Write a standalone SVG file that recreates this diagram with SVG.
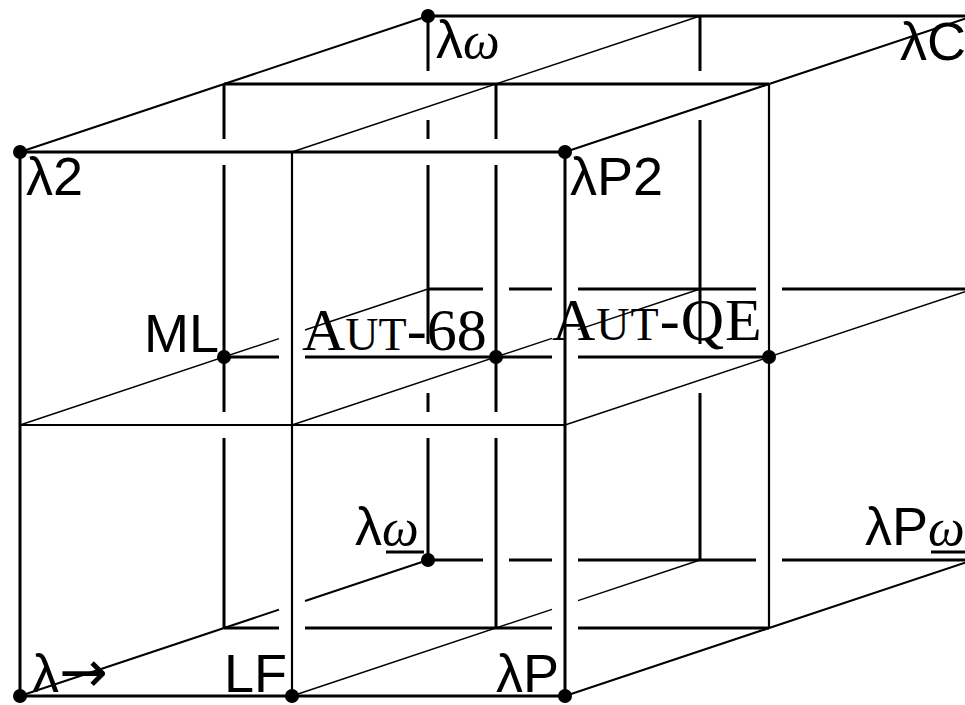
<svg xmlns="http://www.w3.org/2000/svg" width="965" height="705" viewBox="0 0 965 705">
<style>
.thick{fill:none;stroke:#000;stroke-width:3;stroke-linecap:butt}
.thin{fill:none;stroke:#000;stroke-width:2.2;stroke-linecap:butt}
.dthick{fill:none;stroke:#000;stroke-width:2}
.dthin{fill:none;stroke:#000;stroke-width:1.4}
.sans{font-family:"Liberation Sans",Arial,sans-serif;font-size:54px;fill:#000}
.it{font-family:"Liberation Serif","Times New Roman",serif;font-style:italic;font-size:52px}
.arr{font-family:"DejaVu Sans",sans-serif;font-size:58px}
.rm{font-family:"Liberation Serif","Times New Roman",serif;font-size:60px;fill:#000}
.sc{font-size:46px}
.ul{stroke:#000;stroke-width:3}
</style>
<rect width="965" height="705" fill="#fff"/>
<g id="connectors">
<path class="thick" d="M20 152V696 M565 152V696 M20 152H565 M20 696H565
M224 84H769
M224 357H279 M305 357H552 M578 357H769
M224 628H279 M305 628H552 M578 628H769
M224 84V139 M224 165V412 M224 438V628
M496 84V139 M496 165V412 M496 438V628
M428 16H965
M428 289H483 M509 289H552 M578 289H756 M782 289H965
M428 560H483 M509 560H552 M578 560H756 M782 560H965
M428 16V71 M428 120V139 M428 165V344 M428 393V412 M428 438V560
M700 16V71 M700 120V344 M700 393V560"/>
<path class="thin" d="M292 152V696 M20 425H565 M769 84V628"/>
<path class="dthick" d="M20 152L428 16 M565 152L965 18.67 M20 696L279 609.67 M305 601L428 560 M565 696L965 562.67"/>
<path class="dthin" d="M292 152L700 16 M20 425L279 338.67 M305 330L428 289 M292 425L552 338.33 M578 329.67L700 289 M565 425L965 291.67 M292 696L552 609.33 M578 600.67L700 560"/>
</g>
<g id="n-lambda2"><circle cx="20" cy="152" r="7"/><text class="sans" x="26" y="195">λ2</text></g>
<g id="n-lambdaomega"><circle cx="428" cy="16" r="7"/><text class="sans" x="436" y="58">λ<tspan class="it">ω</tspan></text></g>
<g id="n-lambdaC"><text class="sans" x="900" y="60">λC</text></g>
<g id="n-lambdaP2"><circle cx="565" cy="152" r="7"/><text class="sans" x="570" y="195">λP2</text></g>
<g id="n-ML"><circle cx="224" cy="357" r="7"/><text class="sans" x="219" y="352" text-anchor="end">ML</text></g>
<g id="n-aut68"><circle cx="496" cy="357" r="7"/><text class="rm" x="302" y="350">A<tspan class="sc">UT</tspan>-68</text></g>
<g id="n-autqe"><circle cx="769" cy="357" r="7"/><text class="rm" x="552" y="340" letter-spacing="1">A<tspan class="sc">UT</tspan>-QE</text></g>
<g id="n-lambdaomegaul"><circle cx="428" cy="560" r="7"/><text class="sans" x="355" y="545">λ<tspan class="it">ω</tspan></text><line class="ul" x1="386" y1="552" x2="424" y2="552"/></g>
<g id="n-lambdaPomegaul"><text class="sans" x="865" y="545">λP<tspan class="it">ω</tspan></text><line class="ul" x1="931" y1="552" x2="965" y2="552"/></g>
<g id="n-lambdaarrow"><circle cx="20" cy="696" r="7"/><text class="sans" x="32" y="692">λ<tspan class="arr">→</tspan></text></g>
<g id="n-LF"><circle cx="292" cy="696" r="7"/><text class="sans" x="287" y="692" text-anchor="end">LF</text></g>
<g id="n-lambdaP"><circle cx="565" cy="696" r="7"/><text class="sans" x="559" y="692" text-anchor="end">λP</text></g>
</svg>
